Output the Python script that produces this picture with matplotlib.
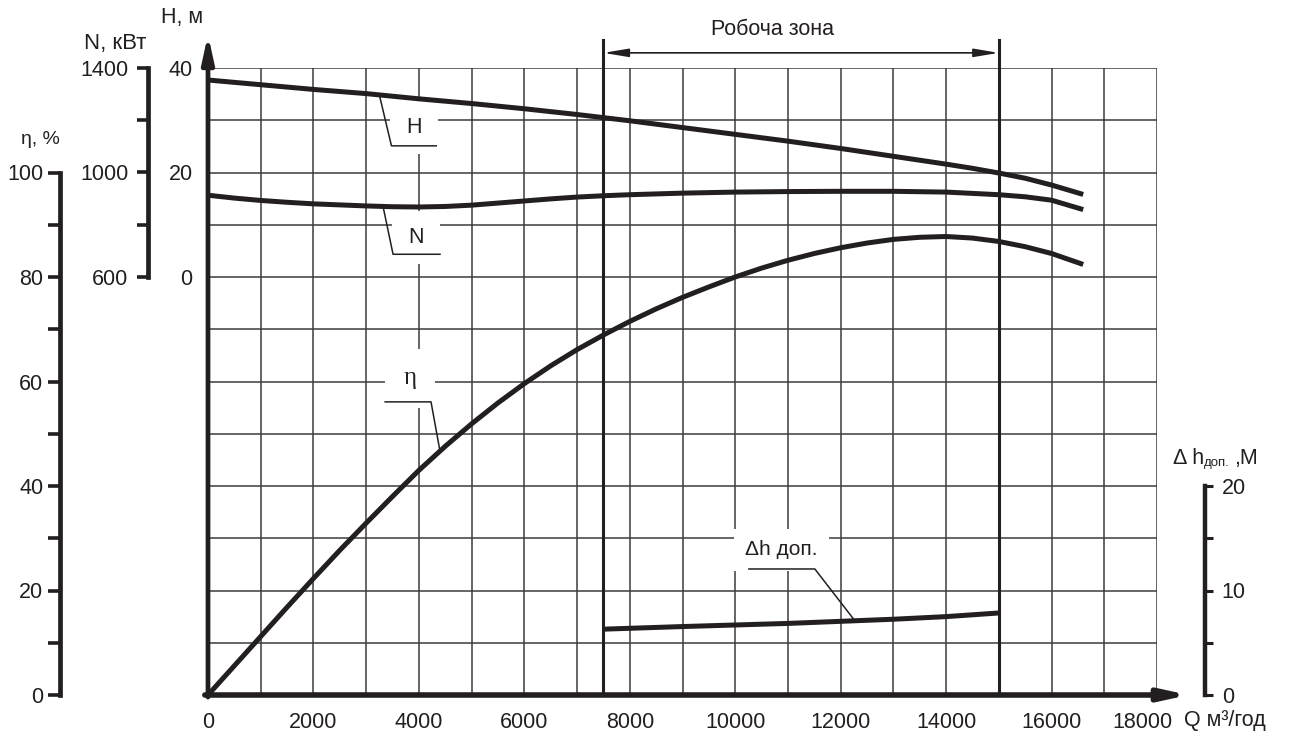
import matplotlib
matplotlib.use("Agg")
import matplotlib.pyplot as plt
import matplotlib.transforms as mtransforms
import numpy as np
from matplotlib.patches import ArrowStyle

plt.rcParams["font.family"] = ["Liberation Sans", "DejaVu Sans"]

INK = "#231f20"
GRID = "#3c3c3c"
FS = 15.5

# pump curves (Q in m3/h)
q_head = [0, 1000, 2000, 3000, 4000, 5000, 6000, 7000, 8000, 9000,
          10000, 11000, 12000, 13000, 14000, 14500, 15000, 15500, 16000, 16600]
head = [37.7, 36.8, 35.9, 35.1, 34.1, 33.2, 32.2, 31.1, 29.9, 28.6,
        27.3, 26.0, 24.6, 23.1, 21.6, 20.8, 19.9, 18.9, 17.6, 15.8]

q_power = [0, 500, 1000, 1500, 2000, 2500, 3000, 3500, 4000, 4500, 5000,
           5500, 6000, 6500, 7000, 7500, 8000, 9000, 10000, 11000, 12000,
           13000, 14000, 15000, 15500, 16000, 16600]
power = [913, 902, 893, 886, 880, 876, 872, 869, 868, 870, 875,
         883, 891, 899, 906, 911, 915, 921, 925, 927, 928,
         928, 925, 915, 907, 894, 858]

q_eff = [0, 500, 1000, 1500, 2000, 2500, 3000, 3500, 4000, 4500, 5000,
         5500, 6000, 6500, 7000, 7500, 8000, 8500, 9000, 9500, 10000,
         10500, 11000, 11500, 12000, 12500, 13000, 13500, 14000, 14500,
         15000, 15500, 16000, 16600]
eff = [0, 5.6, 11.2, 16.8, 22.3, 27.7, 32.9, 38.0, 43.0, 47.6, 51.9,
       55.9, 59.6, 63.0, 66.1, 68.9, 71.5, 73.9, 76.1, 78.1, 80.0,
       81.7, 83.2, 84.5, 85.6, 86.5, 87.2, 87.6, 87.75, 87.45,
       86.8, 85.8, 84.5, 82.4]

q_npsh = [7500, 9000, 10000, 11000, 12000, 13000, 14000, 15000]
npsh = [6.3, 6.55, 6.7, 6.85, 7.05, 7.25, 7.5, 7.85]

work_zone = [7500, 15000]
q_ticks = [0, 2000, 4000, 6000, 8000, 10000, 12000, 14000, 16000, 18000]
eff_ticks = [0, 10, 20, 30, 40, 50, 60, 70, 80, 90, 100]
power_ticks = [600, 800, 1000, 1200, 1400]
head_ticks = [0, 20, 40]
npsh_ticks = [0, 5, 10, 15, 20]

W, H = 1290, 745
fig = plt.figure(figsize=(W / 100, H / 100), dpi=100)
ax = fig.add_axes([208 / W, 1 - 695 / H, 949 / W, 627 / H])
ax.set_xlim(0, 18000)
ax.set_ylim(0, 120)

# grid
ax.vlines(np.arange(1000, 18001, 1000), 0, 120, color=GRID, lw=1.1, zorder=1)
ax.hlines(np.arange(10, 121, 10), 0, 18000, color=GRID, lw=1.1, zorder=1)

for s in ax.spines.values():
    s.set_visible(False)

# axis lines with arrows
ax.annotate("", xy=(18600, 0), xytext=(-60, 0), annotation_clip=False,
            arrowprops=dict(arrowstyle=ArrowStyle("-|>", head_length=1.6, head_width=0.35),
                            lw=4, color=INK, shrinkA=0, shrinkB=0), zorder=5)
ax.annotate("", xy=(0, 126.4), xytext=(0, -0.4), annotation_clip=False,
            arrowprops=dict(arrowstyle=ArrowStyle("-|>", head_length=1.6, head_width=0.35),
                            lw=3.4, color=INK, shrinkA=0, shrinkB=0), zorder=5)

# x ticks
ax.set_xticks(q_ticks)
ax.set_xticklabels([str(v) for v in q_ticks])
ax.tick_params(axis="x", length=0, pad=12, labelsize=FS, labelcolor=INK)
last = ax.get_xticklabels()[-1]
last.set_transform(last.get_transform()
                   + mtransforms.ScaledTranslation(-0.15, 0, fig.dpi_scale_trans))
ax.text(18520, -4.8, "Q м³/год", ha="left", va="center", fontsize=FS, color=INK,
        clip_on=False)

# efficiency axis (base axes)
ax.spines["left"].set_visible(True)
ax.spines["left"].set_position(("axes", -0.156))
ax.spines["left"].set_bounds(0, 100)
ax.spines["left"].set_linewidth(3.4)
ax.spines["left"].set_color(INK)
ax.set_yticks(eff_ticks)
ax.set_yticklabels([str(v) if v % 20 == 0 else "" for v in eff_ticks])
ax.tick_params(axis="y", length=8.5, width=2.6, pad=3.5, labelsize=FS,
               color=INK, labelcolor=INK)
ax.plot(q_eff, eff, color=INK, lw=3.6, zorder=4, solid_capstyle="butt")


def twin(ylim):
    t = ax.twinx()
    t.set_ylim(*ylim)
    for s in t.spines.values():
        s.set_visible(False)
    return t


# head axis
axH = twin((-80, 40))
axH.yaxis.set_ticks_position("left")
axH.set_yticks(head_ticks)
axH.set_yticklabels([str(v) for v in head_ticks])
axH.tick_params(axis="y", length=0, pad=11, labelsize=FS, labelcolor=INK)
axH.plot(q_head, head, color=INK, lw=3.6, zorder=4, solid_capstyle="butt")

# power axis
axN = twin((-1000, 1400))
axN.spines["left"].set_visible(True)
axN.spines["left"].set_position(("axes", -0.0632))
axN.spines["left"].set_bounds(600, 1400)
axN.spines["left"].set_linewidth(3.4)
axN.spines["left"].set_color(INK)
axN.yaxis.set_ticks_position("left")
axN.set_yticks(power_ticks)
axN.set_yticklabels([str(v) if v in (600, 1000, 1400) else "" for v in power_ticks])
axN.tick_params(axis="y", length=8, width=2.6, pad=6, labelsize=FS,
                color=INK, labelcolor=INK)
axN.plot(q_power, power, color=INK, lw=3.6, zorder=4, solid_capstyle="butt")

# npsh axis
axD = twin((0, 60))
axD.spines["right"].set_visible(True)
axD.spines["right"].set_position(("axes", 1.0506))
axD.spines["right"].set_bounds(0, 20)
axD.spines["right"].set_linewidth(3.2)
axD.spines["right"].set_color(INK)
axD.yaxis.set_ticks_position("right")
axD.set_yticks(npsh_ticks)
axD.set_yticklabels([str(v) if v % 10 == 0 else "" for v in npsh_ticks])
axD.tick_params(axis="y", length=6, width=2.2, pad=6, labelsize=FS,
                color=INK, labelcolor=INK)
axD.plot(q_npsh, npsh, color=INK, lw=3.6, zorder=4, solid_capstyle="butt")

# working zone
for qz in work_zone:
    ax.plot([qz, qz], [0, 125.4], color=INK, lw=2.2, zorder=3, clip_on=False)
ax.annotate("", xy=(work_zone[0], 122.9), xytext=(work_zone[1], 122.9),
            annotation_clip=False,
            arrowprops=dict(arrowstyle=ArrowStyle("<|-|>", head_length=1.5, head_width=0.25),
                            lw=1.2, color=INK, shrinkA=0, shrinkB=0))
ax.text(np.mean(work_zone) - 550, 127.3, "Робоча зона", ha="center", va="center",
        fontsize=FS, color=INK, clip_on=False)

# curve callouts
box = dict(boxstyle="square,pad=0.75", fc="white", ec="none")


def callout(a, qc, ycurve, elbow, end, txt_xy, label, **kw):
    a.plot([end[0], elbow[0], qc], [end[1], elbow[1], ycurve], color=INK,
           lw=1.1, zorder=4, clip_on=False)
    a.text(*txt_xy, label, ha="center", va="center", color=INK,
           bbox=box, zorder=3, **kw)


callout(axH, 3250, np.interp(3250, q_head, head), (3480, 25.1), (4330, 25.1),
        (3900, 28.6), "H", fontsize=FS)
callout(axN, 3320, np.interp(3320, q_power, power), (3510, 687), (4400, 687),
        (3950, 751), "N", fontsize=FS)
callout(ax, 4400, np.interp(4400, q_eff, eff), (4230, 56.1), (3360, 56.1),
        (3830, 60.6), "η", fontsize=18, family=["Liberation Serif", "DejaVu Serif"])
axD.plot([10260, 11510, 12270], [12.06, 12.06, np.interp(12270, q_npsh, npsh)],
         color=INK, lw=1.1, zorder=4)
axD.text(10880, 13.9, "Δh доп.", ha="center", va="center", fontsize=15, color=INK,
         bbox=dict(boxstyle="square,pad=0.55", fc="white", ec="none"), zorder=3)

# axis titles
fig.text(182 / W, 1 - 18 / H, "H, м", ha="center", va="center", fontsize=FS, color=INK)
fig.text(115 / W, 1 - 43 / H, "N, кВт", ha="center", va="center", fontsize=16, color=INK)
fig.text(40 / W, 1 - 140 / H, "η, %", ha="center", va="center", fontsize=14, color=INK)
fig.text(1173 / W, 1 - 458 / H, "Δ h", ha="left", va="center", fontsize=FS, color=INK)
fig.text(1204 / W, 1 - 463 / H, "доп.", ha="left", va="center", fontsize=9.5, color=INK)
fig.text(1234 / W, 1 - 458 / H, ",М", ha="left", va="center", fontsize=FS, color=INK)

fig.savefig("out.png", dpi=100)
